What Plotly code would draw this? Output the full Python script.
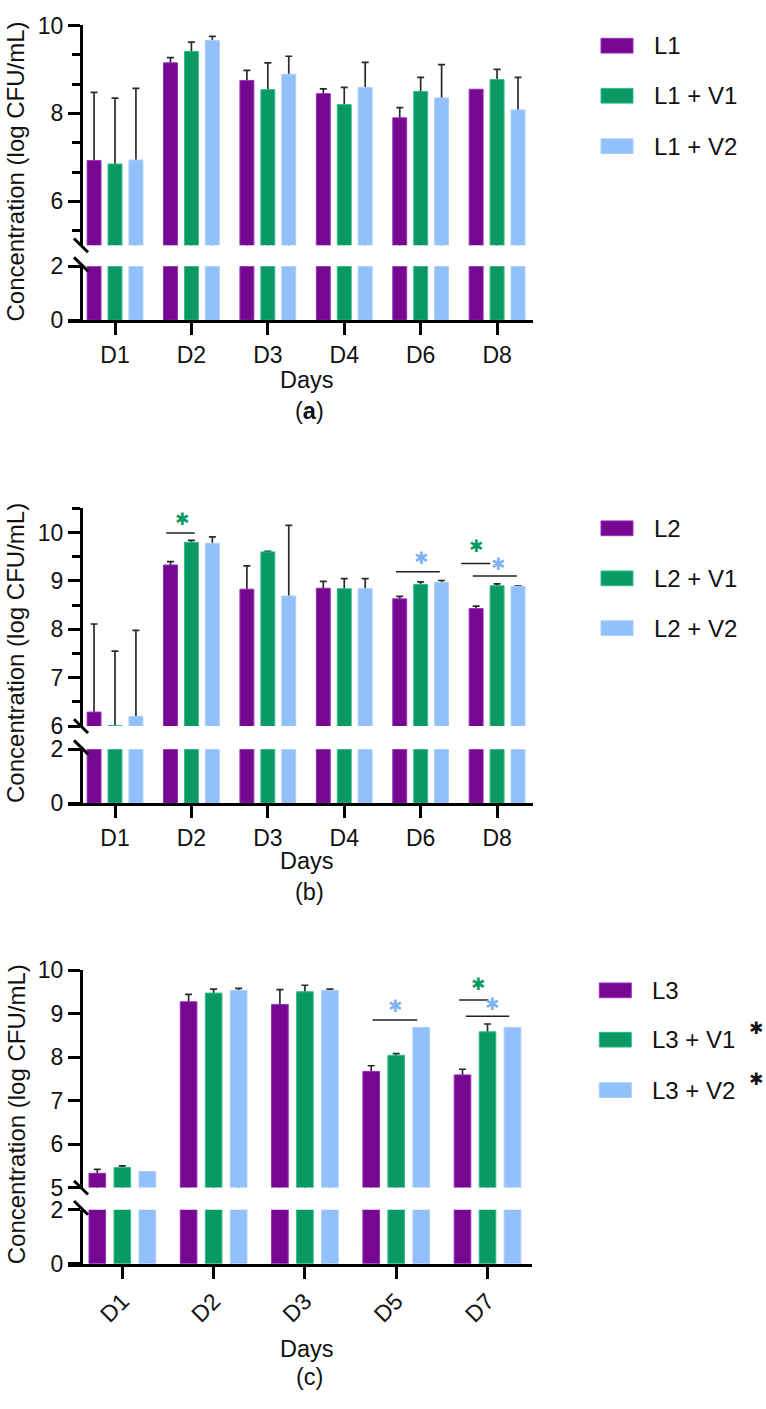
import plotly.graph_objects as go

W, H = 766, 1409
FONT = "Liberation Sans, Arial, Helvetica, sans-serif"
STARFONT = "DejaVu Sans, Liberation Sans, sans-serif"

# ---------------- data ----------------
days_a = ["D1", "D2", "D3", "D4", "D6", "D8"]
series_a = ["L1", "L1 + V1", "L1 + V2"]
mean_a_L = [6.93, 9.15, 8.75, 8.45, 7.90, 8.55]
mean_a_V1 = [6.85, 9.41, 8.54, 8.20, 8.50, 8.77]
mean_a_V2 = [6.94, 9.66, 8.89, 8.59, 8.35, 8.08]
err_a_L = [1.55, 0.12, 0.23, 0.11, 0.23, None]
err_a_V1 = [1.50, 0.21, 0.61, 0.39, 0.32, 0.23]
err_a_V2 = [1.63, 0.09, 0.41, 0.57, 0.76, 0.74]

days_b = ["D1", "D2", "D3", "D4", "D6", "D8"]
series_b = ["L2", "L2 + V1", "L2 + V2"]
mean_b_L = [6.29, 9.33, 8.83, 8.85, 8.63, 8.43]
mean_b_V1 = [6.01, 9.80, 9.60, 8.84, 8.93, 8.90]
mean_b_V2 = [6.20, 9.78, 8.69, 8.84, 8.97, 8.89]
err_b_L = [1.82, 0.07, 0.48, 0.14, 0.05, 0.05]
err_b_V1 = [1.54, 0.04, 0.01, 0.21, 0.05, 0.04]
err_b_V2 = [1.78, 0.13, 1.46, 0.21, 0.04, 0.01]

days_c = ["D1", "D2", "D3", "D5", "D7"]
series_c = ["L3", "L3 + V1", "L3 + V2"]
mean_c_L = [5.33, 9.27, 9.21, 7.67, 7.59]
mean_c_V1 = [5.46, 9.47, 9.50, 8.04, 8.58]
mean_c_V2 = [5.37, 9.53, 9.53, 8.68, 8.68]
err_c_L = [0.09, 0.17, 0.34, 0.13, 0.13]
err_c_V1 = [0.04, 0.09, 0.15, 0.04, 0.18]
err_c_V2 = [None, 0.05, 0.03, None, None]

COLORS = ["#750791", "#0a9962", "#92c0fa"]
EDGES = ["#9a2cc0", "#2bbd8c", "#a9cdfb"]
STAR_GREEN = "#0a9962"
STAR_BLUE = "#7fb2f2"


def fx(p):
    return p / W


def fy(p):
    return 1 - p / H


panels = [
    dict(days=days_a, names=series_a, means=[mean_a_L, mean_a_V1, mean_a_V2],
         errs=[err_a_L, err_a_V1, err_a_V2],
         xdom=(68, 533), xrange=(-0.615, 5.47), angle=0,
         top=(12.7, 236.7), toprange=(5, 10), topticks=[6, 8, 10],
         minor=[5.333, 6.667, 7.333, 8.667, 9.333],
         bot=(258, 313), caption="(<b>a</b>)",
         days_y=373.5, cap_y=405, title_y=161.5,
         legend_y=[33.3, 84.3, 135.7], legend_x=601, legend_stars=[]),
    dict(days=days_b, names=series_b, means=[mean_b_L, mean_b_V1, mean_b_V2],
         errs=[err_b_L, err_b_V1, err_b_V2],
         xdom=(68, 533), xrange=(-0.615, 5.47), angle=0,
         top=(504.7, 726.5), toprange=(6, 10.5), topticks=[6, 7, 8, 9, 10],
         minor=[6.5, 7.5, 8.5, 9.5, 10.5],
         bot=(750, 805), caption="(b)",
         days_y=863.5, cap_y=896, title_y=652,
         legend_y=[525, 576, 626.7], legend_x=601, legend_stars=[]),
    dict(days=days_c, names=series_c, means=[mean_c_L, mean_c_V1, mean_c_V2],
         errs=[err_c_L, err_c_V1, err_c_V2],
         xdom=(68, 531.7), xrange=(-0.595, 4.484), angle=-45,
         top=(975, 1196.7), toprange=(5, 10), topticks=[5, 6, 7, 8, 9, 10],
         minor=[],
         bot=(1219.3, 1274.3), caption="(c)",
         days_y=1361.5, cap_y=1390, title_y=1122,
         legend_y=[995.7, 1046, 1097.3], legend_x=599.3, legend_stars=[1, 2]),
]

# significance brackets: (panel, x0, x1, y) and stars: (panel, x, y, color)
sig_lines = [
    (1, 0.67, 1.043, 9.99),
    (1, 3.678, 4.25, 9.19),
    (1, 4.53, 4.91, 9.36),
    (1, 4.682, 5.258, 9.10),
    (2, 2.74, 3.23, 8.85),
    (2, 3.69, 4.01, 9.31),
    (2, 3.763, 4.238, 8.94),
]
sig_stars = [
    (1, 0.882, 10.29, STAR_GREEN),
    (1, 4.0, 9.48, STAR_BLUE),
    (1, 4.725, 9.73, STAR_GREEN),
    (1, 5.017, 9.36, STAR_BLUE),
    (2, 2.985, 9.17, STAR_BLUE),
    (2, 3.895, 9.68, STAR_GREEN),
    (2, 4.048, 9.23, STAR_BLUE),
]

fig = go.Figure()
layout = {}
shapes = []
annotations = []

AXCOL = "#000000"
YAXIS_X = 81

for k, p in enumerate(panels):
    xa = "x" if k == 0 else f"x{k + 1}"
    yb = "y" if k == 0 else f"y{2 * k + 1}"
    yt = f"y{2 * k + 2}"
    xa_key = "xaxis" if k == 0 else f"xaxis{k + 1}"
    yb_key = "yaxis" if k == 0 else f"yaxis{2 * k + 1}"
    yt_key = f"yaxis{2 * k + 2}"

    # bottom segment bars
    for s in range(3):
        fig.add_trace(go.Bar(
            x=p["days"], y=p["means"][s], xaxis=xa, yaxis=yb,
            marker=dict(color=COLORS[s], line=dict(color=EDGES[s], width=1)),
            offsetgroup=str(s), showlegend=False, hoverinfo="skip"))
    # error bars (drawn underneath visible bars, upper part only visible)
    for s in range(3):
        errs = p["errs"][s]
        means = p["means"][s]
        fig.add_trace(go.Bar(
            x=p["days"],
            y=[m if e is not None else None for m, e in zip(means, errs)],
            xaxis=xa, yaxis=yt,
            marker=dict(color="rgba(0,0,0,0)", line=dict(width=0)),
            error_y=dict(type="data", symmetric=False,
                         array=[e if e is not None else 0 for e in errs],
                         arrayminus=list(means),
                         color="#2a2a2a", thickness=1.7, width=3.5),
            offsetgroup=str(s), showlegend=False, hoverinfo="skip"))
    # top segment bars
    for s in range(3):
        fig.add_trace(go.Bar(
            x=p["days"], y=p["means"][s], xaxis=xa, yaxis=yt,
            marker=dict(color=COLORS[s], line=dict(color=EDGES[s], width=1)),
            offsetgroup=str(s), name=p["names"][s], showlegend=False,
            hoverinfo="skip"))

    layout[xa_key] = dict(
        domain=[fx(p["xdom"][0]), fx(p["xdom"][1])], range=list(p["xrange"]),
        type="category", anchor=yb, showline=True, linewidth=3, linecolor=AXCOL,
        ticks="outside", ticklen=12, tickwidth=3, tickcolor=AXCOL,
        tickangle=p["angle"], tickfont=dict(size=23, color="#111", family=FONT),
        showgrid=False, zeroline=False, fixedrange=True)
    layout[yb_key] = dict(
        domain=[fy(p["bot"][1]), fy(p["bot"][0])], range=[0, 2],
        tickvals=[0, 2], anchor="free", position=fx(YAXIS_X),
        showline=True, linewidth=3, linecolor=AXCOL,
        ticks="outside", ticklen=12, tickwidth=3, tickcolor=AXCOL,
        tickfont=dict(size=23, color="#111", family=FONT),
        showgrid=False, zeroline=False, fixedrange=True)
    ytop = dict(
        domain=[fy(p["top"][1]), fy(p["top"][0])], range=list(p["toprange"]),
        tickvals=p["topticks"], anchor="free", position=fx(YAXIS_X),
        showline=True, linewidth=3, linecolor=AXCOL,
        ticks="outside", ticklen=12, tickwidth=3, tickcolor=AXCOL,
        tickfont=dict(size=23, color="#111", family=FONT),
        showgrid=False, zeroline=False, fixedrange=True)
    if p["minor"]:
        ytop["minor"] = dict(tickmode="array", tickvals=p["minor"], ticks="outside",
                             ticklen=8, tickwidth=3, tickcolor=AXCOL, showgrid=False)
    layout[yt_key] = ytop

    # axis break marks
    for cy in (p["top"][1], p["bot"][0] - 2):
        shapes.append(dict(type="line", xref="paper", yref="paper",
                           x0=fx(YAXIS_X - 7), y0=fy(cy - 7),
                           x1=fx(YAXIS_X + 7), y1=fy(cy + 7),
                           line=dict(color=AXCOL, width=3)))

    # axis titles & captions
    annotations.append(dict(text="Concentration (log CFU/mL)", textangle=-90,
                            xref="paper", yref="paper", x=fx(16), y=fy(p["title_y"]),
                            showarrow=False, xanchor="center", yanchor="middle",
                            font=dict(size=24, color="#111", family=FONT)))
    annotations.append(dict(text="Days", xref="paper", yref="paper",
                            x=fx(307), y=fy(p["days_y"]), showarrow=False,
                            xanchor="center", yanchor="middle",
                            font=dict(size=23.5, color="#111", family=FONT)))
    annotations.append(dict(text=p["caption"], xref="paper", yref="paper",
                            x=fx(309), y=fy(p["cap_y"]), showarrow=False,
                            xanchor="center", yanchor="middle",
                            font=dict(size=23.5, color="#111", family=FONT)))

    # legend
    for s in range(3):
        cy = p["legend_y"][s]
        lx = p["legend_x"]
        shapes.append(dict(type="rect", xref="paper", yref="paper",
                           x0=fx(lx), x1=fx(lx + 32), y0=fy(cy + 7.5), y1=fy(cy - 7.5),
                           fillcolor=COLORS[s], line=dict(color=EDGES[s], width=1)))
        annotations.append(dict(text=p["names"][s], xref="paper", yref="paper",
                                x=fx(lx + 51), y=fy(cy), showarrow=False,
                                xanchor="left", yanchor="middle",
                                font=dict(size=24, color="#111", family=FONT)))
        if s in p["legend_stars"]:
            annotations.append(dict(text="✱", xref="paper", yref="paper",
                                    x=fx(756), y=fy(cy - 11.5), showarrow=False,
                                    xanchor="center", yanchor="middle",
                                    font=dict(size=17, color="#111", family=STARFONT)))

for (k, x0, x1, yv) in sig_lines:
    xa = "x" if k == 0 else f"x{k + 1}"
    yt = f"y{2 * k + 2}"
    shapes.append(dict(type="line", xref=xa, yref=yt, x0=x0, x1=x1, y0=yv, y1=yv,
                       line=dict(color="#222", width=1.5)))
for (k, xs, ys, col) in sig_stars:
    xa = "x" if k == 0 else f"x{k + 1}"
    yt = f"y{2 * k + 2}"
    annotations.append(dict(text="✱", xref=xa, yref=yt, x=xs, y=ys, showarrow=False,
                            xanchor="center", yanchor="middle",
                            font=dict(size=17, color=col, family=STARFONT)))

fig.update_layout(
    width=W, height=H, margin=dict(l=0, r=0, t=0, b=0),
    paper_bgcolor="white", plot_bgcolor="white",
    barmode="group", bargap=0.178, bargroupgap=0.335,
    showlegend=False, font=dict(family=FONT, color="#111"),
    shapes=shapes, annotations=annotations, **layout)

fig.write_html("out.html")
